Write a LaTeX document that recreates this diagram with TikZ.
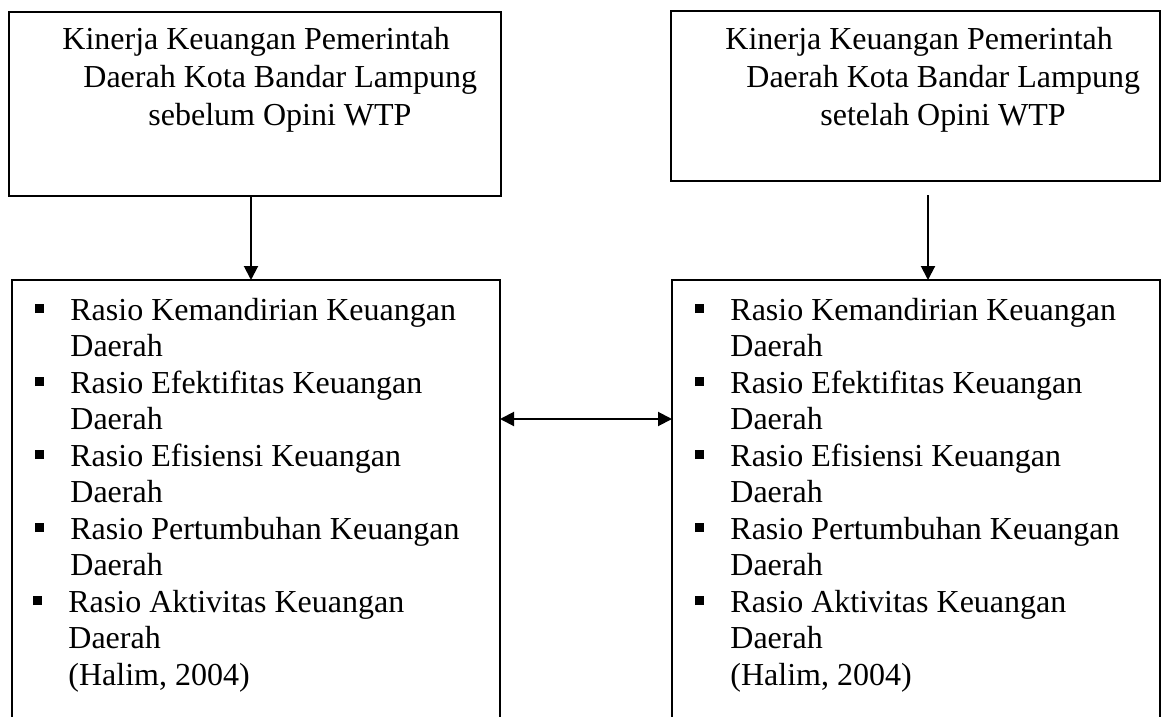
\documentclass[tikz,border=0pt]{standalone}
\usepackage{fontspec}
\setmainfont{Liberation Serif}
\usetikzlibrary{arrows.meta}

\newcommand{\butir}{\llap{\rule[3.5pt]{4.5pt}{4.5pt}\hspace{13pt}}}

\begin{document}
\begin{tikzpicture}[x=0.5pt,y=-0.5pt,
    kotak/.style={draw, line width=0.8pt, anchor=north west, inner sep=0pt, outer sep=0pt},
    judul/.style={anchor=base west, align=left, inner sep=0pt, font=\fontsize{16}{19}\selectfont},
    daftar/.style={anchor=base west, align=left, inner sep=0pt, font=\fontsize{16}{18.25}\selectfont},
    panah/.style={line width=1pt, -{Triangle[length=7pt,width=7pt]}}]
\clip (0,0) rectangle (1162,717);
% kotak atas
\node[kotak, minimum width=246pt, minimum height=92pt] (sebelum) at (9,12) {};
\node[kotak, minimum width=244.5pt, minimum height=85pt] (setelah) at (671,11) {};
\node[judul] (sebelumteks) at (62,126) {Kinerja Keuangan Pemerintah\\
  \hspace*{10.5pt}Daerah Kota Bandar Lampung\\
  \hspace*{43pt}sebelum Opini WTP};
\node[judul] (setelahteks) at (725,126) {Kinerja Keuangan Pemerintah\\
  \hspace*{10.5pt}Daerah Kota Bandar Lampung\\
  \hspace*{47.5pt}setelah Opini WTP};
% kotak bawah
\node[kotak, minimum width=244pt, minimum height=250pt] (rasiokiri) at (12,280) {};
\node[kotak, minimum width=244pt, minimum height=250pt] (rasiokanan) at (672,280) {};
\node[daftar] (rasiokiriteks) at (70,685) {\butir Rasio Kemandirian Keuangan\\ Daerah\\
  \butir Rasio Efektifitas Keuangan\\ Daerah\\
  \butir Rasio Efisiensi Keuangan\\ Daerah\\
  \butir Rasio Pertumbuhan Keuangan\\ Daerah\\
  \hspace*{-1pt}\butir Rasio Aktivitas Keuangan\\ \hspace*{-1pt}Daerah\\
  \hspace*{-1pt}(Halim, 2004)};
\node[daftar] (rasiokananteks) at (730,685) {\butir Rasio Kemandirian Keuangan\\ Daerah\\
  \butir Rasio Efektifitas Keuangan\\ Daerah\\
  \butir Rasio Efisiensi Keuangan\\ Daerah\\
  \butir Rasio Pertumbuhan Keuangan\\ Daerah\\
  \butir Rasio Aktivitas Keuangan\\ Daerah\\
  (Halim, 2004)};
% panah
\coordinate (pangkal) at (928,195);
\coordinate (tengah) at (586,419);
\draw[panah] ([xshift=-2pt]sebelum.south) -- ([xshift=-2.5pt]rasiokiri.north);
\draw[panah] (pangkal) -- (pangkal |- rasiokanan.north);
\draw[panah, {Triangle[length=7pt,width=7pt]}-{Triangle[length=7pt,width=7pt]}] (tengah -| rasiokiri.east) -- (tengah -| rasiokanan.west);
\end{tikzpicture}
\end{document}
